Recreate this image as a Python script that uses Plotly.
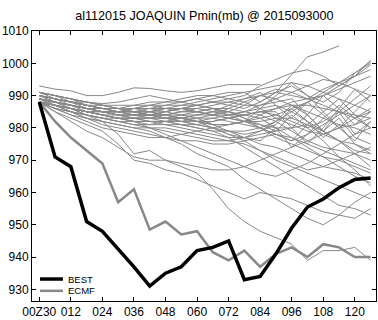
import plotly.graph_objects as go

# forecast hours (6-hourly) from 2015093000
hours = [0, 6, 12, 18, 24, 30, 36, 42, 48, 54, 60, 66, 72, 78, 84, 90, 96, 102, 108, 114, 120, 126]

tick_hours = [0, 12, 24, 36, 48, 60, 72, 84, 96, 108, 120]
tick_text = ["00Z30", "012", "024", "036", "048", "060", "072", "084", "096", "108", "120"]

# best-track minimum pressure (mb)
best = [988, 971, 968, 951, 948, 942.5, 937, 931, 935, 937, 942, 943, 945, 933, 934, 941,
        949, 955.5, 958, 961.5, 964, 964.5]

# ECMWF deterministic minimum pressure (mb)
ecmf = [988, 982, 977, 973, 969, 957, 961, 948.5, 951, 947, 948, 941.5, 939, 942, 937, 941,
        943, 940, 944, 943, 940, 940]

# ensemble member minimum pressures (mb); None where a member stops
N = None
ens01 = [993, 992, 991.5, 990, 990, 991, 992.4, 992.2, 991.5, 991, 991.5, 992.5, 993.4, 993.4, 993.4, N, N, N, N, N, N, N]
ens02 = [991, 990, 989, 988, 987.5, 988, 989, 990, 989, 988, 989, 990, 991, 991, 988, 991, 996.5, 1002, 1003.5, 1005.4, N, N]
ens03 = [990, 989, 988, 987, 986, 986, 987, 988, 988, 989, 990, 990, 989, 990, 993, 995, 997, 998, 996, 993, 996, 1001]
ens04 = [989, 988, 987, 986, 985, 985, 986, 987, 987, 988, 989, 988, 987, 986, 988, 991, 993, 990, 988, 991, 997, 1000]
ens05 = [991, 990, 989, 987, 986, 985, 985, 986, 986, 986, 985, 984, 985, 987, 990, 992, 991, 989, 992, 994, 996, 999.5]
ens06 = [988, 988, 987, 986, 986, 986, 985, 984, 983, 983, 984, 985, 987, 989, 991, 987, 983, 988, 984, 980, 985, 990]
ens07 = [990, 989, 988, 987, 986, 986, 986, 985, 984, 983, 982, 981, 981, 982, 986, 990, 994, 990, 985, 989, 984, 980]
ens08 = [989, 988, 987, 986, 985, 984, 984, 984, 985, 986, 987, 988, 989, 988, 986, 983, 981, 979, 978, 980, 983, 985]
ens09 = [988, 987, 986, 985, 985, 985, 986, 986, 985, 984, 983, 981, 979, 977, 976, 980, 974, 978, 983, 987, 983, 986]
ens10 = [990, 989, 988, 988, 987, 987, 987, 987, 986, 985, 985, 986, 986, 985, 984, 982, 979, 976, 974, 973, 972, 970]
ens11 = [989, 988, 987, 985, 984, 983, 983, 983, 983, 983, 982, 980, 978, 976, 973, 970, 968, 966, 964, 962, 960, 958]
ens12 = [988, 987, 986, 985, 984, 983, 982, 981, 981, 981, 980, 979, 979, 978, 979, 981, 986, 982, 977, 981, 975, 972]
ens13 = [991, 990, 989, 988, 987, 986, 985, 984, 983, 982, 981, 980, 978, 977, 975, 974, 972, 970, 968, 967, 966, 964]
ens14 = [990, 989, 988, 986, 985, 984, 984, 985, 986, 986, 985, 984, 983, 982, 980, 978, 976, 981, 985, 980, 976, 982]
ens15 = [989, 988, 987, 986, 985, 985, 985, 984, 983, 982, 982, 983, 984, 985, 986, 987, 985, 982, 979, 976, 973, 972]
ens16 = [988, 986, 985, 984, 983, 982, 981, 981, 982, 983, 984, 985, 985, 984, 983, 980, 977, 974, 971, 968, 965, 963]
ens17 = [988, 986, 984, 983, 982, 981, 980, 980, 980, 979, 978, 977, 976, 975, 973, 971, 969, 967, 968, 970, 972, 974]
ens18 = [990, 988, 987, 986, 985, 985, 985, 985, 985, 986, 987, 988, 988, 987, 987, 988, 989, 984, 979, 983, 977, 975]
ens19 = [989, 987, 986, 985, 984, 983, 982, 982, 981, 980, 979, 978, 977, 977, 978, 979, 980, 981, 979, 976, 972, 968]
ens20 = [988, 987, 985, 984, 983, 983, 983, 982, 982, 981, 980, 979, 977, 974, 971, 968, 965, 962, 959, 956, 955, 953]
ens21 = [991, 990, 988, 987, 986, 985, 984, 984, 984, 985, 986, 987, 988, 989, 990, 991, 990, 989, 987, 985, 983, 980]
ens22 = [990, 989, 988, 987, 987, 986, 986, 986, 987, 987, 988, 989, 990, 991, 992, 993, 994, 993, 991, 989, 987, 985]
ens23 = [988, 986, 984, 982, 980, 979, 978, 977, 977, 978, 979, 980, 981, 982, 984, 986, 988, 989, 990, 992, 994, 996]
ens24 = [989, 988, 987, 986, 985, 984, 983, 983, 983, 984, 985, 986, 985, 983, 981, 979, 984, 980, 976, 971, 967, 962]
ens25 = [988, 987, 986, 985, 984, 983, 982, 980, 978, 976, 974, 972, 970, 968, 966, 965, 967, 969, 972, 975, 978, 980]
ens26 = [990, 989, 987, 986, 985, 985, 984, 984, 984, 983, 982, 982, 983, 984, 985, 984, 982, 980, 982, 985, 989, 993]
ens27 = [989, 988, 986, 984, 982, 978, 972, 973, 970, 969, 968, 967, 967, 968, 970, 972, 974, 976, 978, 980, 981, 983]
ens28 = [990, 989, 988, 987, 986, 986, 986, 987, 988, 988, 987, 986, 984, 982, 981, 980, 980, 975, 980, 986, 981, 985]
ens29 = [988, 987, 986, 984, 983, 982, 982, 982, 982, 982, 983, 984, 986, 988, 990, 989, 987, 985, 983, 981, 980, 978]
ens30 = [991, 989, 988, 987, 986, 985, 985, 985, 986, 987, 987, 986, 985, 983, 980, 977, 975, 973, 971, 970, 968, 966]
ens31 = [989, 988, 987, 986, 985, 984, 983, 982, 982, 982, 981, 980, 979, 979, 980, 982, 987, 984, 990, 986, 992, 988]
ens32 = [990, 988, 987, 986, 985, 984, 983, 983, 984, 985, 985, 984, 983, 982, 982, 983, 983, 981, 978, 976, 975, 973]
ens33 = [988, 987, 986, 985, 985, 985, 985, 985, 984, 983, 982, 981, 981, 982, 983, 984, 986, 988, 990, 993, 996, 998]
ens34 = [989, 988, 986, 985, 984, 983, 983, 984, 985, 986, 986, 985, 984, 985, 987, 989, 991, 993, 995, 994, 992, 990]
ens35 = [988, 985, 983, 981, 979, 975, 970, 969, 967, 966, 964, 962, 960, 958, 960, 959, 958, 956, 954, 953, 952, 955]
ens36 = [988, 986, 985, 983, 981, 980, 979, 978, 977, 976, 976, 975, 975, 976, 977, 978, 977, 975, 973, 971, 969, 967]
ens37 = [988, 985, 982, 979, 977, 974, 971, 970, 970, 968, 966, 961, 955, 951, 948, 946, 944, 939, 942, 942, 943, 939]
ens38 = [989, 987, 985, 983, 982, 981, 980, 979, 977, 975, 972, 970, 968, 964, 961, 958, 955, 952, 950, 953, 957, 960]
ens39 = [990, 989, 988, 987, 986, 985, 984, 983, 982, 981, 981, 982, 983, 984, 985, 985, 980, 984, 979, 985, 978, 982]
ens40 = [988, 987, 986, 985, 984, 984, 984, 984, 984, 984, 984, 984, 984, 984, 985, 986, 987, 987, 986, 985, 984, 983]
ens41 = [991, 990, 989, 988, 987, 986, 985, 984, 983, 983, 983, 983, 982, 981, 980, 978, 976, 978, 981, 984, 987, 990]
ens42 = [988, 987, 985, 984, 983, 982, 981, 980, 979, 978, 977, 976, 976, 977, 979, 982, 985, 988, 991, 994, 997, 1000.5]

members = [ens01, ens02, ens03, ens04, ens05, ens06, ens07, ens08, ens09, ens10, ens11, ens12, ens13, ens14,
           ens15, ens16, ens17, ens18, ens19, ens20, ens21, ens22, ens23, ens24, ens25, ens26, ens27, ens28,
           ens29, ens30, ens31, ens32, ens33, ens34, ens35, ens36, ens37, ens38, ens39, ens40, ens41, ens42]

FONT = "Liberation Sans, Arial, Helvetica, sans-serif"
ENS_GREY = "#888888"
ECMF_GREY = "#888888"

fig = go.Figure()

for m in members:
    fig.add_trace(go.Scatter(x=hours, y=m, mode="lines",
                             line=dict(color=ENS_GREY, width=1),
                             showlegend=False, hoverinfo="skip"))

fig.add_trace(go.Scatter(x=hours, y=ecmf, mode="lines", name="ECMF",
                         line=dict(color=ECMF_GREY, width=2.5), showlegend=False))
fig.add_trace(go.Scatter(x=hours, y=best, mode="lines", name="BEST",
                         line=dict(color="black", width=3.5), showlegend=False))

# compact legend key in the lower-left corner of the plot area
legend_items = [("BEST", "black", 3.5, 0.0814), ("ECMF", ECMF_GREY, 2.5, 0.0376)]
for label, colour, width, ypos in legend_items:
    fig.add_shape(type="line", xref="paper", yref="paper",
                  x0=0.0232, x1=0.0899, y0=ypos, y1=ypos,
                  line=dict(color=colour, width=width))
    fig.add_annotation(text=label, xref="paper", yref="paper", x=0.0986, y=ypos,
                       xanchor="left", yanchor="middle", showarrow=False,
                       font=dict(size=9.5, family=FONT, color="black"))

fig.update_layout(
    width=378, height=320,
    margin=dict(l=32, r=1, t=31, b=15),
    paper_bgcolor="white", plot_bgcolor="white",
    font=dict(family=FONT, size=12, color="black"),
    title=dict(text="al112015 JOAQUIN Pmin(mb) @ 2015093000",
               x=0.5405, xanchor="center", y=0.95, yanchor="middle",
               font=dict(size=12.6, family=FONT)),
    showlegend=False,
)

fig.update_xaxes(range=[-2.77, 128.06], tickmode="array", tickvals=tick_hours, ticktext=tick_text,
                 ticks="inside", ticklen=4, tickwidth=1, tickcolor="black",
                 showline=True, linecolor="black", linewidth=1, mirror="ticks",
                 showgrid=False, zeroline=False, tickfont=dict(size=12))
fig.update_yaxes(range=[926.4, 1010], tickmode="array", tickvals=list(range(930, 1011, 10)),
                 ticks="inside", ticklen=4, tickwidth=1, tickcolor="black",
                 showline=True, linecolor="black", linewidth=1, mirror="ticks",
                 showgrid=False, zeroline=False, tickfont=dict(size=12))

fig.write_html("out.html")
